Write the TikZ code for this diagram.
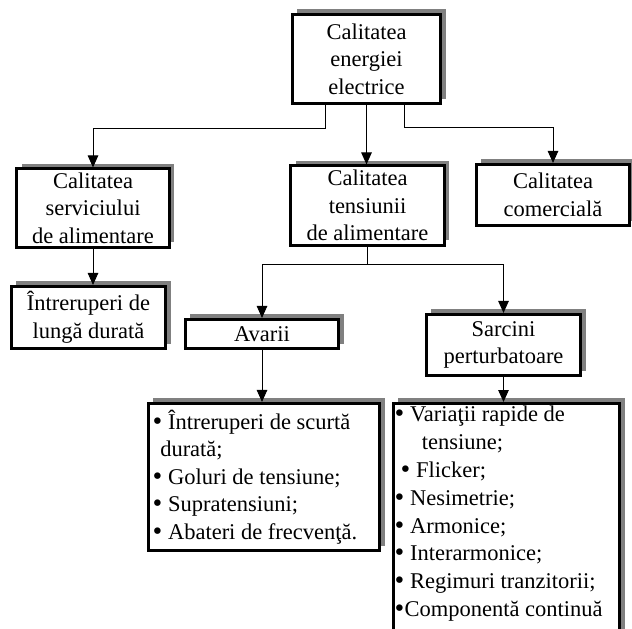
\documentclass[tikz,border=0pt]{standalone}
\usepackage{fontspec}
\setmainfont{Liberation Serif}
\newfontfamily\bulfont{DejaVu Sans}
\usetikzlibrary{arrows.meta,shadows}
\newcommand{\blt}{\hspace*{-2.5pt}{\bulfont •}\hspace{-2.5pt}}
\newcommand{\mybul}{\blt\hspace{6.5pt}}
\begin{document}
\begin{tikzpicture}[x=1pt,y=-1pt,
  box/.style={draw, line width=2.6pt, fill=white, inner sep=2pt, align=center,
    font=\fontsize{22.5}{27.5}\selectfont,
    drop shadow={shadow xshift=5pt, shadow yshift=5pt, fill=black!50, opacity=1}},
  listbox/.style={box, align=flush left},
  arr/.style={line width=1pt, -{Triangle[length=12pt,width=10.5pt]}}]
\useasboundingbox (0,0) rectangle (632,629);

\node[box, minimum width=148.5, minimum height=89.5] (top) at (366.5,59) {Calitatea\\energiei\\electrice};
\node[box, minimum width=152.5, minimum height=78.5] (lsvc) at (93,208) {Calitatea\\serviciului\\de alimentare};
\node[box, minimum width=153.5, minimum height=79.5] (mid) at (367.5,205.5) {Calitatea\\tensiunii\\de alimentare};
\node[box, minimum width=153.5, minimum height=61.5] (rcom) at (553,195) {Calitatea\\comercială};
\node[box, minimum width=154.5, minimum height=62.5] (lld) at (88.5,317.5) {Întreruperi de\\lungă durată};
\node[box, minimum width=153.5, minimum height=29.5] (avarii) at (262,334) {Avarii};
\node[box, minimum width=154.5, minimum height=61.5] (sarc) at (503.5,345) {Sarcini\\perturbatoare};

\node[listbox, inner xsep=5pt, text width=221.5pt, minimum height=147.5] (list1) at (264,477)
  {\mybul Întreruperi de scurtă\\\hspace*{7pt}durată;\\\mybul Goluri de tensiune;\\\mybul Supratensiuni;\\\mybul Abateri de frecvenţă.};

\node[listbox, inner xsep=2pt, inner ysep=3pt, anchor=north] (list2) at (506.5,402)
  {\parbox[t][235pt][t]{222.5pt}{\raggedright\fontsize{22.5}{27.8}\selectfont
   \mybul Variaţii rapide de\\
   \hspace*{26.7pt}tensiune;\\
   \hspace*{6pt}\mybul Flicker;\\
   \mybul Nesimetrie;\\
   \mybul Armonice;\\
   \mybul Interarmonice;\\
   \mybul Regimuri tranzitorii;\\
   \blt\hspace{1pt}Componentă continuă}};

\draw[arr] ([xshift=-41.5pt]top.south) -- ++(0,23) -| (lsvc.north);
\draw[arr] (top.south) -- (top.south |- mid.north);
\draw[arr] ([xshift=37.5pt]top.south) -- ++(0,22) -| (rcom.north);
\draw[arr] (lsvc.south) -- (lsvc.south |- lld.north);
\draw[arr] (mid.south) -- ++(0,18) -| (avarii.north);
\draw[arr] (mid.south) -- ++(0,18) -| (sarc.north);
\draw[arr] (avarii.south) -- (avarii.south |- list1.north);
\draw[arr] (sarc.south) -- (sarc.south |- list2.north);
\end{tikzpicture}
\end{document}
